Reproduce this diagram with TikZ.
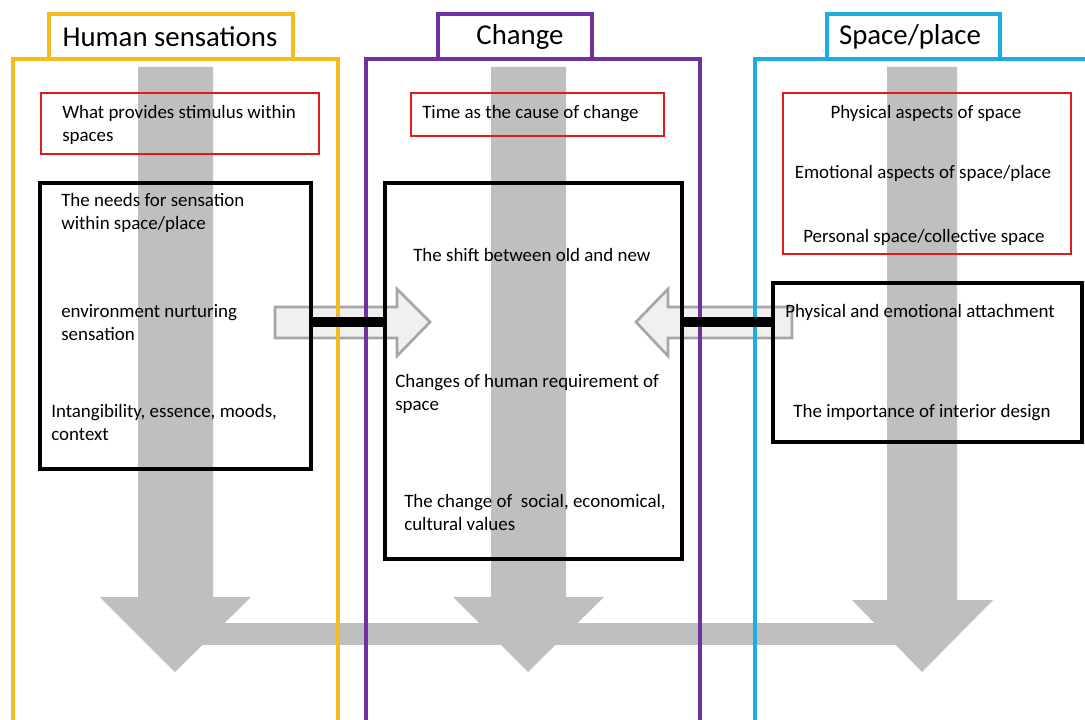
\documentclass[tikz,border=0pt]{standalone}
\usepackage{fontspec}
\setmainfont{Carlito}
\usetikzlibrary{fit}
\definecolor{cyel}{HTML}{F2BE1E}
\definecolor{cpur}{HTML}{7030A0}
\definecolor{ccya}{HTML}{1AAFE0}
\definecolor{cred}{HTML}{DD1C1C}
\definecolor{cgry}{HTML}{BFBFBF}
\definecolor{chfill}{HTML}{F0F0F0}
\definecolor{chdraw}{HTML}{A6A6A6}
\begin{document}
\begin{tikzpicture}[x=0.75pt,y=-0.75pt,
  body/.style={font=\fontsize{14.2}{17.25}\selectfont, inner sep=0pt, align=left, anchor=north west},
  bodyc/.style={font=\fontsize{14.2}{17.25}\selectfont, inner sep=0pt, align=center, anchor=north},
  ttl/.style={font=\fontsize{21.6}{26}\selectfont, inner sep=0pt, anchor=center},
  redbox/.style={draw=cred, line width=2.2pt, inner sep=0pt},
  blkbox/.style={draw=black, line width=3pt, inner sep=0pt},
  frame/.style={line width=2.4pt},
  grey/.style={fill=cgry, draw=none},
  hollow/.style={fill=chfill, draw=chdraw, line width=2pt, line join=miter},
  bar/.style={draw=black, line width=7.5pt}]
\useasboundingbox (0,0) rectangle (1085,720);
\clip (0,0) rectangle (1085,720);
\fill[white] (0,0) rectangle (1085,720);

% grey down arrows and horizontal bar
\fill[grey] (200,623) rectangle (905,645);
\fill[grey] (138,67) -- (213,67) -- (213,597) -- (251,597) -- (175,672) -- (100,597) -- (138,597) -- cycle;
\fill[grey] (491,67) -- (566,67) -- (566,597) -- (604,597) -- (528,672) -- (453,597) -- (491,597) -- cycle;
\fill[grey] (887,67) -- (957,67) -- (957,600) -- (993,600) -- (922,672) -- (852,600) -- (887,600) -- cycle;

% hollow arrows
\draw[hollow] (275,307) -- (397,307) -- (397,289) -- (430,322) -- (397,356) -- (397,338) -- (275,338) -- cycle;
\draw[hollow] (792,307) -- (668,307) -- (668,289) -- (636,322) -- (668,356) -- (668,338) -- (792,338) -- cycle;

% column frames and title tabs
\draw[frame, cyel] (13,725) -- (13,59) -- (338,59) -- (338,725);
\draw[frame, cyel] (49,59) -- (49,14) -- (293,14) -- (293,59);
\draw[frame, cpur] (366,725) -- (366,59) -- (700,59) -- (700,725);
\draw[frame, cpur] (438,59) -- (438,14) -- (592,14) -- (592,59);
\draw[frame, ccya] (755,725) -- (755,59) -- (1095,59);
\draw[frame, ccya] (827,59) -- (827,14) -- (1000,14) -- (1000,59);

\node[ttl] (t1) at (170,37) {Human sensations};
\node[ttl] (t2) at (520,37) {Change};
\node[ttl] (t3) at (910,37) {Space/place};

% red boxes
\node[redbox, fit={(41,93) (319,154)}] (r1) {};
\node[redbox, fit={(411,93) (664,136)}] (r2) {};
\node[redbox, fit={(783,93) (1071,254)}] (r3) {};

% black boxes
\node[blkbox, fit={(40,183) (311,469)}] (b1) {};
\node[blkbox, fit={(385,183) (682,559)}] (b2) {};
\node[blkbox, fit={(773,283) (1082,442)}] (b3) {};

% connecting bars
\draw[bar] (b1.east |- 0,322) -- (b2.west |- 0,322);
\draw[bar] (b2.east |- 0,322) -- (b3.west |- 0,322);

% texts
\node[body] (x1) at (62,105) {What provides stimulus within\\spaces};
\node[body] (x2) at (61,193) {The needs for sensation\\within space/place};
\node[body] (x3) at (61,304) {environment nurturing\\sensation};
\node[body] (x4) at (51,404) {Intangibility, essence, moods,\\context};
\node[body] (x5) at (422,105) {Time as the cause of change};
\node[body] (x6) at (413,248) {The shift between old and new};
\node[body] (x7) at (395,374) {Changes of human requirement of\\space};
\node[body] (x8) at (404,494) {The change of~ social, economical,\\cultural values};
\node[bodyc] (x9) at (926,105) {Physical aspects of space};
\node[bodyc] (x10) at (923,165) {Emotional aspects of space/place};
\node[bodyc] (x11) at (924,229) {Personal space/collective space};
\node[bodyc] (x12) at (920,304) {Physical and emotional attachment};
\node[bodyc] (x13) at (922,404) {The importance of interior design};
\end{tikzpicture}
\end{document}
